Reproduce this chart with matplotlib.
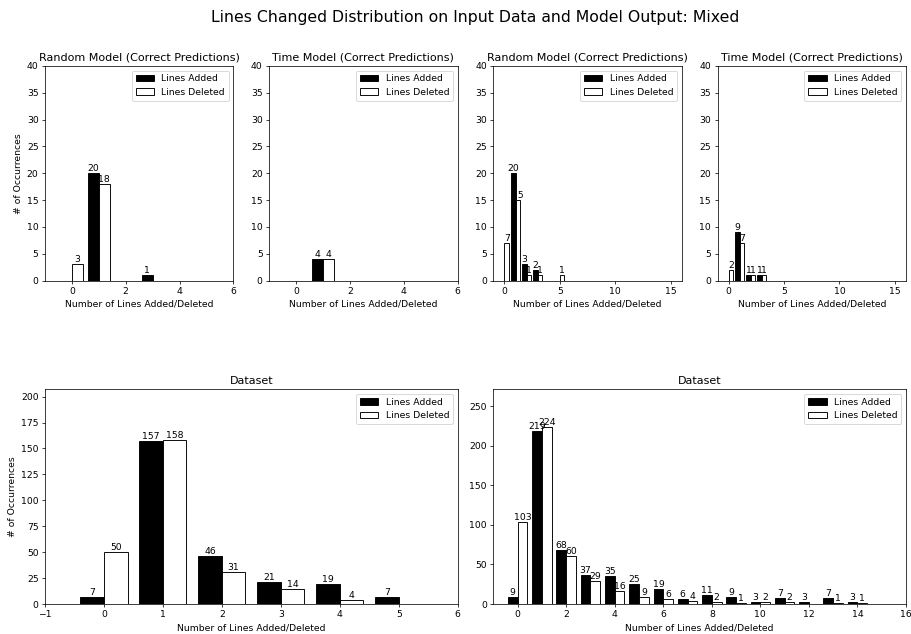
import numpy as np
import matplotlib
matplotlib.use("Agg")
import matplotlib.pyplot as plt

# values
rand_added_a = [0, 20, 0, 1]
rand_deleted_a = [3, 18, 0, 0]
time_added_a = [0, 4]
time_deleted_a = [0, 4]
rand_added_b = [0, 20, 3, 2, 0, 0]
rand_deleted_b = [7, 15, 1, 1, 0, 1]
time_added_b = [0, 9, 1, 1]
time_deleted_b = [2, 7, 1, 1]
data_added_a = [7, 157, 46, 21, 19, 7]
data_deleted_a = [50, 158, 31, 14, 4, 0]
data_added_b = [9, 219, 68, 37, 35, 25, 19, 6, 11, 9, 3, 7, 3, 7, 3]
data_deleted_b = [103, 224, 60, 29, 16, 9, 6, 4, 2, 1, 2, 2, 0, 1, 1]

dpi = 66.6
fig = plt.figure(figsize=(911 / dpi, 634 / dpi), dpi=dpi)
gs = fig.add_gridspec(2, 4, left=0.0494, right=0.9945, top=0.896, bottom=0.0473,
                      wspace=0.19, hspace=0.507)


def draw(ax, added, deleted, title, xlim, ylim, ylabel=False):
    x = np.arange(len(added))
    width = 0.4
    b1 = ax.bar(x - width / 2, added, width, color="black", edgecolor="black", label="Lines Added")
    b2 = ax.bar(x + width / 2, deleted, width, color="white", edgecolor="black", label="Lines Deleted")
    ax.bar_label(b1, labels=[str(v) if v else "" for v in added])
    ax.bar_label(b2, labels=[str(v) if v else "" for v in deleted])
    ax.set_title(title)
    ax.set_xlim(*xlim)
    ax.set_ylim(*ylim)
    ax.set_xlabel("Number of Lines Added/Deleted")
    if ylabel:
        ax.set_ylabel("# of Occurrences")
    ax.legend(loc="upper right")


ax1 = fig.add_subplot(gs[0, 0])
draw(ax1, rand_added_a, rand_deleted_a, "Random Model (Correct Predictions)", (-1, 6), (0, 40), ylabel=True)
ax2 = fig.add_subplot(gs[0, 1])
draw(ax2, time_added_a, time_deleted_a, "Time Model (Correct Predictions)", (-1, 6), (0, 40))
ax3 = fig.add_subplot(gs[0, 2])
draw(ax3, rand_added_b, rand_deleted_b, "Random Model (Correct Predictions)", (-1, 16), (0, 40))
ax4 = fig.add_subplot(gs[0, 3])
draw(ax4, time_added_b, time_deleted_b, "Time Model (Correct Predictions)", (-1, 16), (0, 40))

ax5 = fig.add_subplot(gs[1, 0:2])
draw(ax5, data_added_a, data_deleted_a, "Dataset", (-1, 6), (0, 207), ylabel=True)
ax5.set_yticks(np.arange(0, 201, 25))
ax6 = fig.add_subplot(gs[1, 2:4])
draw(ax6, data_added_b, data_deleted_b, "Dataset", (-1, 16), (0, 271))

fig.suptitle("Lines Changed Distribution on Input Data and Model Output: Mixed",
             fontsize=17, x=0.5215, y=0.985)

plt.savefig("out.png", dpi=dpi)
